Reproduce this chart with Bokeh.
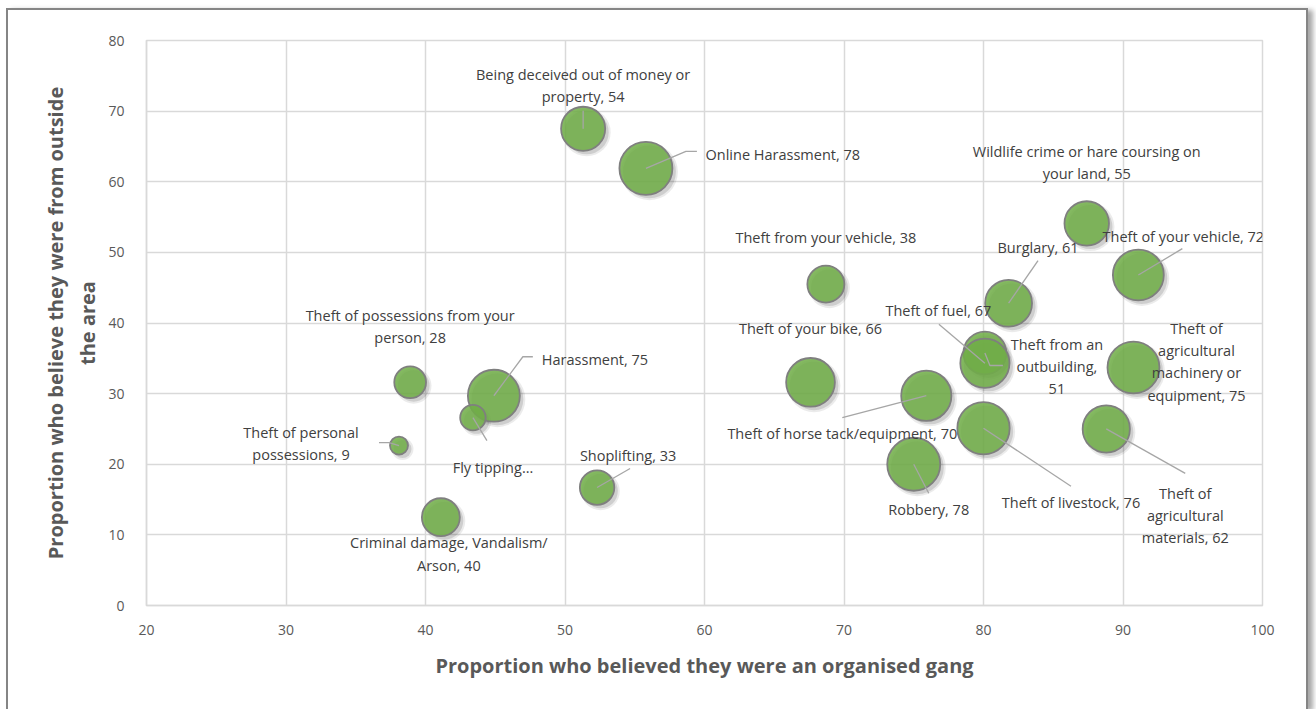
from bokeh.plotting import figure
from bokeh.models import ColumnDataSource, FixedTicker
from bokeh.core.properties import value
from bokeh.embed import file_html
from bokeh.resources import INLINE

# ---------------- data ----------------
crimes = [
    "Theft of personal possessions", "Theft of possessions from your person", "Harassment",
    "Fly tipping", "Criminal damage, Vandalism/Arson", "Being deceived out of money or property",
    "Online Harassment", "Shoplifting", "Theft of your bike", "Theft from your vehicle",
    "Theft of horse tack/equipment", "Robbery", "Theft from an outbuilding", "Theft of fuel",
    "Theft of livestock", "Burglary", "Wildlife crime or hare coursing on your land",
    "Theft of agricultural materials", "Theft of agricultural machinery or equipment",
    "Theft of your vehicle",
]
gang_pct = [38.1, 38.9, 44.9, 43.4, 41.1, 51.3, 55.8, 52.3, 67.6, 68.7,
            75.9, 75.0, 80.1, 80.1, 80.0, 81.8, 87.4, 88.8, 90.75, 91.1]
outside_pct = [22.65, 31.6, 29.7, 26.6, 12.5, 67.5, 61.9, 16.7, 31.6, 45.5,
               29.7, 20.0, 35.75, 34.3, 25.1, 42.8, 54.1, 25.0, 33.7, 46.8]
bubble_n = [9, 28, 75, 18, 40, 54, 78, 33, 66, 38, 70, 78, 51, 67, 76, 61, 55, 62, 75, 72]
x_ticks = [20, 30, 40, 50, 60, 70, 80, 90, 100]
y_ticks = [0, 10, 20, 30, 40, 50, 60, 70, 80]

# ---------------- layout of labels (text as displayed, offsets in px) ----------------
label_text = [
    "Theft of personal\npossessions, 9", "Theft of possessions from your\nperson, 28",
    "Harassment, 75", "Fly tipping\u2026", "Criminal damage, Vandalism/\nArson, 40",
    "Being deceived out of money or\nproperty, 54", "Online Harassment, 78", "Shoplifting, 33",
    "Theft of your bike, 66", "Theft from your vehicle, 38", "Theft of horse tack/equipment, 70",
    "Robbery, 78", "Theft from an\noutbuilding,\n51", "Theft of fuel, 67", "Theft of livestock, 76",
    "Burglary, 61", "Wildlife crime or hare coursing on\nyour land, 55",
    "Theft of\nagricultural\nmaterials, 62", "Theft of\nagricultural\nmachinery or\nequipment, 75",
    "Theft of your vehicle, 72",
]
label_dx = [-98, 0, 48, 20, 8, 0, 59.6, 31, 0, 0, -84, 15, 72, -46.5, 87.5, 29.4, 0, 79, 63, 45]
label_dy = [-2, -56, -36, 50, 36.8, -43.5, -14, -32, -54, -47, 38, 45, 13.5, -53, 74, -55.7, -61.2, 86.5, -5.7, -38.3]
label_left = [False, False, True, False, False, False, True, False, False, False,
              False, False, False, False, False, False, False, False, False, False]
# leader polylines: list of pixel offsets from bubble centre (label end first)
leaders = {
    0: [(-20, -3), (-10, -3), (0, 0)],
    2: [(39, -39), (29, -39), (0, 0)],
    3: [(14, 23), (0, 0)],
    5: [(0, -18), (0, 0)],
    6: [(51, -17), (40, -17), (0, 0)],
    7: [(33, -19), (0, 0)],
    10: [(-84, 22), (0, 0)],
    11: [(15, 29), (0, 0)],
    12: [(18, 12.5), (5, 12.5), (0, 0)],
    13: [(-46, -39), (0, 0)],
    14: [(87.5, 58), (0, 0)],
    15: [(29.4, -42.7), (0, 0)],
    17: [(79, 44.5), (0, 0)],
    19: [(44, -26.3), (0, 0)],
}

FRAME_W, FRAME_H = 1116, 565
X0, X1, Y0, Y1 = 20, 100, 0, 80
pxx = FRAME_W / (X1 - X0)
pxy = FRAME_H / (Y1 - Y0)

sizes = [6 * (n ** 0.5) for n in bubble_n]
src = ColumnDataSource(dict(x=gang_pct, y=outside_pct, s=sizes, name=crimes, n=bubble_n,
                            sx=[v + 3.5 / pxx for v in gang_pct],
                            sy=[v - 3.5 / pxy for v in outside_pct],
                            s2=[v + 4 for v in sizes]))

p = figure(frame_width=FRAME_W, frame_height=FRAME_H, x_range=(X0, X1), y_range=(Y0, Y1),
           min_border_left=138, min_border_right=44, min_border_top=30, min_border_bottom=104,
           output_backend="svg", toolbar_location=None,
           background_fill_color="white", border_fill_color="white")
p.styles = {"margin-left": "6px", "margin-top": "8px",
            "border-left": "2px solid #858585", "border-top": "2px solid #858585",
            "border-right": "2px solid #858585",
            "box-shadow": "5px 2px 5px rgba(0,0,0,0.35)"}
p.outline_line_color = "#d9d9d9"
p.outline_line_width = 1.5

for ax in (p.xaxis[0], p.yaxis[0]):
    ax.axis_line_color = "#d9d9d9"
    ax.axis_line_width = 1.5
    ax.major_tick_line_color = None
    ax.minor_tick_line_color = None
    ax.major_label_text_font = "Open Sans"
    ax.major_label_text_font_size = "14px"
    ax.major_label_text_color = "#595959"
    ax.axis_label_text_font = "Open Sans"
    ax.axis_label_text_font_size = "20px"
    ax.axis_label_text_font_style = "bold"
    ax.axis_label_text_color = "#595959"

p.xaxis.ticker = FixedTicker(ticks=x_ticks)
p.yaxis.ticker = FixedTicker(ticks=y_ticks)
p.xaxis.major_label_standoff = 13
p.yaxis.major_label_standoff = 16
p.xaxis.axis_label = "Proportion who believed they were an organised gang"
p.yaxis.axis_label = "Proportion who believe they were from outside\nthe area"
p.xaxis.axis_label_standoff = 14
p.yaxis.axis_label_standoff = 4

for g in (p.xgrid[0], p.ygrid[0]):
    g.grid_line_color = "#d9d9d9"
    g.grid_line_width = 1.5
    g.ticker = FixedTicker(ticks=x_ticks if g is p.xgrid[0] else y_ticks)

# shadows
p.scatter("sx", "sy", size="s2", source=src, fill_color="black", fill_alpha=0.08, line_color=None)
p.scatter("sx", "sy", size="s", source=src, fill_color="black", fill_alpha=0.12, line_color=None)
# bubbles
p.scatter("x", "y", size="s", source=src, fill_color="#70AD47", fill_alpha=0.86,
          line_color="#7f7f7f", line_width=1.8)

# leader lines
lx, ly = [], []
for i, pts in leaders.items():
    lx.append([gang_pct[i] + dx / pxx for dx, dy in pts])
    ly.append([outside_pct[i] - dy / pxy for dx, dy in pts])
p.multi_line(lx, ly, line_color="#a6a6a6", line_width=1.3)

# labels
for left in (False, True):
    idx = [i for i in range(len(crimes)) if label_left[i] == left]
    ls = ColumnDataSource(dict(x=[gang_pct[i] for i in idx], y=[outside_pct[i] for i in idx],
                               t=[label_text[i] for i in idx],
                               dx=[label_dx[i] for i in idx], dy=[label_dy[i] for i in idx]))
    p.text("x", "y", text="t", source=ls, x_offset="dx", y_offset="dy",
           text_align="left" if left else "center", text_baseline="middle",
           text_font=value("Open Sans"), text_font_size="14.5px", text_color="#404040",
           text_line_height=1.18)

open("out.html", "w").write(file_html(p, INLINE))
